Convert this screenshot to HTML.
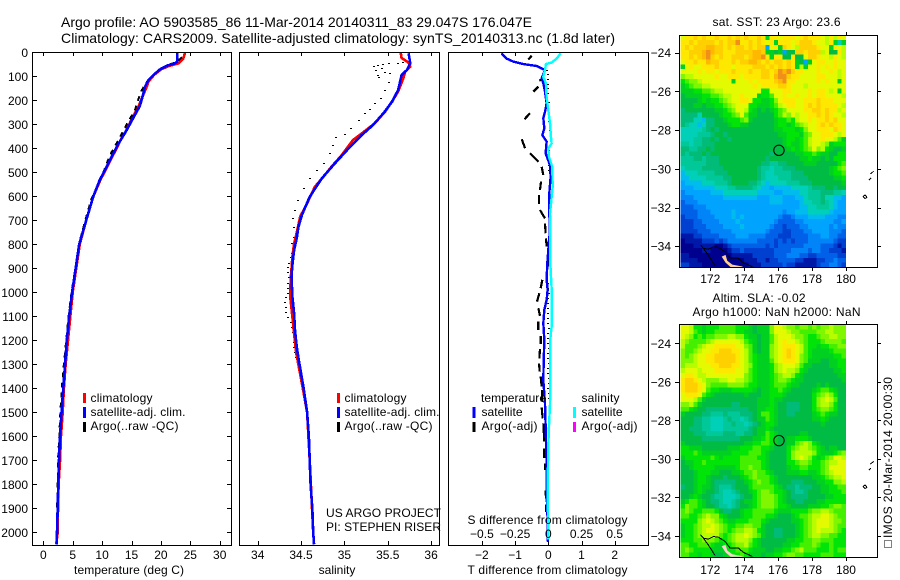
<!DOCTYPE html>
<html lang="en">
<head>
<meta charset="utf-8">
<title>Argo profile 5903585_86</title>
<style>
html,body{margin:0;padding:0;background:#fff;}
svg{display:block;}
text{font-family:"Liberation Sans",sans-serif;font-size:12px;fill:#000;}
.big{font-size:14px;}
</style>
</head>
<body>
<svg id="chart" xmlns="http://www.w3.org/2000/svg" width="900" height="580" viewBox="0 0 900 580">
<rect x="0" y="0" width="900" height="580" fill="#fff"/>
<text class="big" x="61" y="27" textLength="471" lengthAdjust="spacing">Argo profile: AO 5903585_86 11-Mar-2014 20140311_83 29.047S 176.047E</text>
<text class="big" x="61" y="43" textLength="554" lengthAdjust="spacing">Climatology: CARS2009. Satellite-adjusted climatology: synTS_20140313.nc (1.8d later)</text>
<g id="temp-panel"></g>
<g id="sal-panel"></g>
<g id="diff-panel"></g>
<g id="sst-map"></g>
<g id="sla-map"></g>

<g>
<rect x="83" y="393" width="3" height="10" fill="#ff0000"/>
<rect x="83" y="407" width="3" height="11" fill="#0000ff"/>
<rect x="83" y="422" width="3" height="10" fill="#000"/>
<text x="90.5" y="402" textLength="62" lengthAdjust="spacing">climatology</text>
<text x="90.5" y="416" textLength="95" lengthAdjust="spacing">satellite-adj. clim.</text>
<text x="90.5" y="430" textLength="88" lengthAdjust="spacing">Argo(..raw -QC)</text>
</g>
<g>
<rect x="337" y="393" width="3" height="10" fill="#ff0000"/>
<rect x="337" y="407" width="3" height="11" fill="#0000ff"/>
<rect x="337" y="422" width="3" height="10" fill="#000"/>
<text x="344.5" y="402" textLength="62" lengthAdjust="spacing">climatology</text>
<text x="344.5" y="416" textLength="95" lengthAdjust="spacing">satellite-adj. clim.</text>
<text x="344.5" y="430" textLength="88" lengthAdjust="spacing">Argo(..raw -QC)</text>
</g>
<text x="326" y="517" textLength="115" lengthAdjust="spacing">US ARGO PROJECT</text>
<text x="326" y="531" textLength="115" lengthAdjust="spacing">PI: STEPHEN RISER</text>

<g>
<text x="481" y="402" textLength="65" lengthAdjust="spacing">temperature</text>
<text x="581.5" y="402" textLength="38" lengthAdjust="spacing">salinity</text>
<rect x="472.5" y="407" width="3" height="11" fill="#0000ff"/>
<rect x="472.5" y="422" width="3" height="10" fill="#000"/>
<rect x="573" y="407" width="3" height="11" fill="#00ffff"/>
<rect x="573" y="422" width="3" height="10" fill="#ff00ff"/>
<text x="481.5" y="416" textLength="41" lengthAdjust="spacing">satellite</text>
<text x="481.5" y="430" textLength="56" lengthAdjust="spacing">Argo(-adj)</text>
<text x="581.5" y="416" textLength="41" lengthAdjust="spacing">satellite</text>
<text x="581.5" y="430" textLength="56" lengthAdjust="spacing">Argo(-adj)</text>
</g>
<text x="467.5" y="524" textLength="160" lengthAdjust="spacing">S difference from climatology</text>
<text x="467.5" y="574" textLength="160" lengthAdjust="spacing">T difference from climatology</text>
<text x="74" y="574" textLength="110" lengthAdjust="spacing">temperature (deg C)</text>
<text x="337" y="574" text-anchor="middle">salinity</text>

<text x="712.5" y="26" textLength="128" lengthAdjust="spacing">sat. SST: 23  Argo: 23.6</text>
<text x="712.5" y="302" textLength="93" lengthAdjust="spacing">Altim. SLA: -0.02</text>
<text x="692.5" y="316" textLength="168" lengthAdjust="spacing">Argo h1000: NaN h2000: NaN</text>
<rect x="884.5" y="540.5" width="7" height="7" fill="none" stroke="#000" stroke-width="1" stroke-dasharray="1 1" shape-rendering="crispEdges"/>
<text transform="translate(892 538) rotate(-90)" textLength="161" lengthAdjust="spacing">IMOS 20-Mar-2014 20:00:30</text>

<script>
// ---------- profile data ----------
const depthTicks = [0,100,200,300,400,500,600,700,800,900,1000,1100,1200,1300,1400,1500,1600,1700,1800,1900,2000];
const depthTickLabels = ['0','100','200','300','400','500','600','700','800','900','1000','1100','1200','1300','1400','1500','1600','1700','1800','1900','2000'];
const tempTicks = [0,5,10,15,20,25,30];
const tempTickLabels = ['0','5','10','15','20','25','30'];
const salTicks = [34,34.5,35,35.5,36];
const salTickLabels = ['34','34.5','35','35.5','36'];
const tDiffTicks = [-2,-1,0,1,2];
const tDiffTickLabels = ['\u22122','\u22121','0','1','2'];
const sDiffTicks = [-0.5,-0.25,0,0.25,0.5];
const sDiffTickLabels = ['\u22120.5','\u22120.25','0','0.25','0.5'];

const climTempDepth = [2,27,46,56,70,95,122,143,183,225,280,337,358,393,476,532,601,700,800,900,1000,1100,1200,1300,1400,1500,1600,1700,1800,1900,2000,2050];
const climTempValue = [24.1,23.8,23,21.5,20.1,18.8,17.9,17.6,16.9,16.2,15,13.9,13.3,12.6,10.9,9.7,8.5,7.3,6.2,5.6,5.0,4.6,4.2,3.8,3.5,3.3,3.0,2.85,2.6,2.5,2.45,2.2];
const satTempDepth = [3,39,46,56,71,95,115,143,183,225,260,323,393,476,532,601,700,800,900,1000,1100,1200,1300,1400,1500,1600,1700,1800,1900,2000,2050];
const satTempValue = [22.8,22.8,22.4,21,19.85,18.7,17.9,17.3,16.9,16.4,15.6,14.2,12.5,10.8,9.6,8.5,7.3,6.1,5.5,4.9,4.4,4.0,3.7,3.4,3.1,2.85,2.67,2.55,2.45,2.33,2.28];
const argoTempDepth = [20,40,55,75,100,120,160,200,240,300,365,430,470,550,610,700,800,900,1000,1100,1200,1300,1400,1500,1600,1700,1800,1900,2000];
const argoTempValue = [23.6,22.7,21,19.6,18.4,17.7,16.7,16.1,15.6,14.2,12.8,11.3,10.7,9.4,8.2,7.15,6.05,5.45,4.8,4.3,3.9,3.5,3.15,2.9,2.72,2.5,2.45,2.33,2.3];

const climSalDepth = [3,24,43,60,81,108,163,199,247,296,338,365,428,477,518,560,629,685,768,796,852,949,1018,1102,1157,1254,1400,1500,1700,2000,2050];
const climSalValue = [35.65,35.66,35.74,35.76,35.70,35.68,35.62,35.56,35.47,35.35,35.2,35.1,34.97,34.85,34.76,34.66,34.57,34.49,34.44,34.42,34.40,34.38,34.375,34.40,34.415,34.445,34.52,34.57,34.6,34.64,34.65];
const satSalDepth = [4,46,74,95,157,206,254,303,345,400,463,525,602,678,727,775,824,886,935,1018,1088,1157,1227,1274,1400,1500,1600,1700,1800,1900,2000,2050];
const satSalValue = [35.74,35.76,35.72,35.66,35.62,35.55,35.45,35.33,35.2,35.05,34.89,34.74,34.6,34.51,34.47,34.45,34.42,34.40,34.39,34.40,34.42,34.43,34.45,34.47,34.53,34.57,34.59,34.6,34.61,34.63,34.64,34.65];
const argoSalDepth = [11,39,43,46,49,53,56,67,74,81,88,95,104,122,157,192,213,236,254,282,317,340,351,386,421,463,490,525,567,615,657,692,727,768,793,835,854,876,896,917,938,960,981,1001,1021,1042,1063,1083,1104,1122,1146,1167,1188,1208,1229,1250,1271];
const argoSalValue = [35.74,35.68,35.62,35.51,35.45,35.39,35.34,35.43,35.37,35.47,35.53,35.39,35.40,35.51,35.47,35.42,35.35,35.30,35.24,35.17,35.08,35.01,34.90,34.87,34.83,34.76,34.68,34.60,34.53,34.47,34.43,34.41,34.42,34.42,34.40,34.40,34.38,34.36,34.35,34.35,34.36,34.35,34.35,34.35,34.33,34.31,34.33,34.33,34.35,34.38,34.40,34.41,34.42,34.42,34.42,34.43,34.44];

const satTDiffDepth = [4,26,39,49,57,74,109,129,164,213,248,275,317,345,372,421,470,519,588,671,740,823,879,948,990,1032,1073,1129,1198,1296,1366,1463,1560,1713,1880,1950,2040];
const satTDiffValue = [-1.41,-1.26,-1.05,-0.75,-0.35,-0.1,-0.2,-0.15,-0.1,-0.05,-0.1,-0.15,-0.12,-0.18,-0.05,-0.08,0.05,0.07,0.03,0.03,0.05,0,-0.03,-0.05,-0.02,-0.05,-0.12,-0.15,-0.12,-0.14,-0.15,-0.1,-0.08,-0.05,-0.04,-0.02,-0.01];
const satSDiffDepth = [4,26,43,49,74,102,129,185,241,296,352,380,400,435,477,560,671,740,879,983,1143,1198,1351,1463,1560,1643,1810,2030];
const satSDiffValue = [0.093,0.063,0.025,-0.018,-0.025,-0.038,-0.018,-0.013,0,0.013,0.02,0.025,0,0.005,0.03,0.033,0.013,0.015,0.015,0.025,0.025,0.015,0.015,0.013,0.005,0,-0.005,0];
// null breaks the dashed Argo difference line where the reference has a gap
const argoTDiffDepth = [14,30,null,108,118,null,143,164,null,254,279,null,362,400,null,421,456,null,477,511,null,539,574,null,595,632,null,657,692,null,713,754,null,775,809,null,858,893,null,948,983,null,1004,1039,null,1066,1098,null,1122,1157,null,1182,1215,null,1237,1275,null,1296,1330,null,1351,1392,null,1407,1456,null,1480,1525,null,1546,1622,null,1650,1690,null,1713,1740,null,1825,1860,null,1885,1915];
const argoTDiffValue = [-0.5,-0.6,null,-0.15,-0.27,null,-0.3,-0.45,null,-0.55,-0.72,null,-0.8,-0.7,null,-0.55,-0.3,null,-0.2,-0.15,null,-0.22,-0.25,null,-0.28,-0.28,null,-0.25,-0.1,null,-0.1,-0.08,null,-0.07,-0.05,null,0.02,0.02,null,-0.18,-0.23,null,-0.27,-0.34,null,-0.3,-0.25,null,-0.3,-0.3,null,-0.23,-0.23,null,-0.25,-0.27,null,-0.28,-0.26,null,-0.23,-0.2,null,-0.18,-0.2,null,-0.2,-0.17,null,-0.15,-0.12,null,-0.12,-0.12,null,-0.1,-0.1,null,-0.08,-0.07,null,-0.07,-0.07];
const argoSDiffDepth = [74,92,112,132,150,170,205,262,285,305,325,405,425,450,470,490,960,981,1001,1022,1043,1064,1085,1106,1127,1148,1169,1190,1210,1231,1252,1273,1294,1315,1336,1357,1378,1399,1420,1441];
const argoSDiffValue = [-0.012,-0.005,0,0,0,0,0.004,0.005,0.008,0.012,0.012,0.002,0.002,0.004,0.004,0.004,0,0,0.002,0,0,0,0.001,0,0,0.002,0.001,0,0,0.002,0,0,0.002,0,0,0.002,0.002,0,0.004,0.004];

// ---------- map data: one letter per 0.25 deg cell, a = coldest/lowest ... u = warmest/highest ----------
const mapTicksLon = [172,174,176,178,180];
const mapLonLabels = ['172','174','176','178','180'];
const mapTicksLat = [-24,-26,-28,-30,-32,-34];
const mapLatLabels = ['\u221224','\u221226','\u221228','\u221230','\u221232','\u221234'];
const sstRows = [
'qrrsrsrrsr rsrsrsrrsr lrrqrrrqrs rrrqprprq',
'rrsrssssrs rssurrsrsr qrlrrrqrss srqqprlhl',
'rsrsssttss rsrssrsrss fqrlsrqpss ssrqqlrqp',
'rrssstutss rrrsssstts llklfkkssr ssspqkkrp',
'rrsrstusrs rrsssrsttu rlrrkkrkkq ssrqqprqp',
'qrrsrrtssr rrsrssttsr srssrsrlkf lqrrqqrqq',
'lqrqqrrrsr rrqrrrrsss rsrsrsrlpl qqrqrqrqq',
'qqqqrqrrqr rrsrrrsrrs srsutusrrq qqrqqrqpq',
'oppqqqqqrq qrrrqrrrrs srtuusrrqq qqrrqqqpq',
'mnoopqqqqq qqlqqqrqrr rrsturrqqq qqrqrqqlq',
'lmnooppqqq qqqqqqqrqr rrrssrqqqp qqqqqqqqq',
'lllmmnnopp qqqqqqqqqm mqqqrrqqqq rqrrqpqlq',
'kllllmmnno ppqqrqqqlm mnqqrqqrqq rqrrqqqqp',
'kkkklmlmmn opqqrrqmml lmoqrrrqqr rrsrrrqqq',
'kkkllkllmm nopqqqmmll lmnpqrrqqr srsrrrrqp',
'jkkkkkkkll mnoqqpmlkl klmnoqqqqr rssrsrrpq',
'jjjjhkkkkl mmnoqnllkk kkmnpoqpqq rrsrsrqqp',
'jjjhhgjjkk lmmmnolkkk kklmmnmpqq rqrrsrsqq',
'jihhghjjkk klmmllkkkk kklmmlmnop qqrsrsrrq',
'hhhhhijkjk kkkkkkkkkk kkllmmmlmo qqrrrqsrq',
'hhhhiiijkk jkkkkkkkkk kkkllmmmln oqqrrrqpq',
'hhhiijjkjk kjkkkkkkkk kkkklmmlmn pqqrqqpnl',
'iihiijjjkk kkkkkkkkkk kkkklmllmn pqqpolmmm',
'jjiijjkjkk kkkkkkkkkk kkkkklmlmn oqopmlkkl',
'jijjjkjkkk kkkkkkkkkk kjkkkkkllm mnmllkkmm',
'iiijjijjjk kkkkkkkkkk jkkkkkkkll mllklkmmm',
'iiiiiijjjk kkkkkkkkkj jiijjkkkkl llkkkkkmn',
'hiiiijjjjj kkkkkkkkji ihiijjjkkk kkkkklmno',
'ghhhiiiijj jkkkkkkkji hhiiiijjjk kkkkklmmn',
'gghhhhiiii jjkkkkkkji hhhiiijjjj kkkkkkllm',
'fgggghhhii ijkkkkjjih ghhhhiiijj jkkkkkkkl',
'fffggggghh hiijjjjihg gfgggghhhh ijjjkkjkk',
'effffffggg hhhhhhhhgg ggffgggghh iiijjjiih',
'eeefffffff ggggggggff fgggfffggh iiijhhggf',
'deeeffffff ffffffffff fgggffffgh hiijihgff',
'dddeeeffff ffffffffff ffffffffgg hhiiihgff',
'ddddeeefff ffgfffffff ffffeffggg hhhhhgfff',
'cdddeeeeff ffgfgfffff fffeddefff ggggfffee',
'cccddeeeef fffgffffff ffeddddeef ffffffeef',
'cccdddeeee ffffgfffff feddcdddee fffffefee',
'ccccdddeee eeffffffff edddccddde effffeeed',
'bbbccdddde eeefffeeee dddcccdddd eeeffeedd',
'abbbbcccdc deeeeeeedd ddcdcdcddd eeeeeedcc',
'aaabbbbbaa bcdddddddd cdcdddddde eeedddcbc',
'aaaaabbaaa abccdccccc ccddddeeee deeddcccb',
'bbaaaaaaaa aabbbbbccc ccdddeeedd ccdddddcc',
'bbbbaaaaaa aaaaabbbcc bccddddccb bbccddedd',
'ccbbbaaaaa aaaaaabbbc ccccdccbbb bbcddeedc'
];
const slaRows = [
'qqpmmlmmmn nnnmmmlkll loqqpoonoo nonoopooo',
'qqpnmlmmnn nnnmmllkll loqqqpoonn nnooppooo',
'qpomnmnnoo oppoomllkl lnpqqqpoon mmnooppoo',
'ponnnnopqq qqqqpnmlkl lnpqrqqpon mmmnoooon',
'pnnnopqqrr rrrqqonlkl lopqrrrqpn mmlmmnnoo',
'onnopqqrrs ssrrqpnlkl lopqrsrqpn mllllmnnn',
'onopqqrrss sssrqpnmll lopqrsrqon mlllllmmn',
'ooopqqrrss sssrqpnmll lnpqrrrqon lllkkllmm',
'opppqqqrrs ssrrqpomll lmopqqqpnl lkkkkllmm',
'pqqqpqqqrr rrrqqpnmll lmopqppoml kkkkkkllm',
'qrrqppqqqq qqqqqonmll lmnoppomlk kkkkkkkll',
'rssrqpooop pqqpponmll lmnoonmllk kkkkkkkkl',
'rsssrqonnn noooonmmll lmnnnmllkk kklklkkkk',
'rsssrqnmml llmmmmmlkl lmmnmlkkkk klmnnmlkk',
'qrrrqnmlkk kkkkklkkkl lmmmlkkkkk kmnopomkk',
'qqqpnlkkkk kkkkkkkkll lmllkkkkkk kmopqpnkk',
'oopnlkkkkk kkjjkkkkll lmlkkjjjkk kmoppomkk',
'nnmlkkjjjj jjjjjjkkll mmlkkjjjkk kmnoonmkk',
'lkkkkjjiii jiiijjjkln nmlkkjjkkk klmnmllkk',
'kkkjjiihhh ijiihijkll nmlkkkkkkk kllmlkkkk',
'kkkjjiihhh iijiihijkl mmlkkkkkkk kkklkkkkk',
'kkjjjiihhh iiiiiijkll mlkkkkkkkk kkkkkkkkk',
'kkkjjjiiii jjjiijjkll nmlkkkkkll kkkkkkkkk',
'kkkkkjjjjj jjjjkkkllm nmlkkllmmm lkkkkkkkk',
'lkkkkkkkkk kkkkkllmmn nmlkkllnop omlkkkkkk',
'mmlllkkkkk klllmmmnnm mlkkkmnopp onmlkllkk',
'mmmnmlllll llmmmmnnnm lkkkkmoppp pomlllmno',
'lmmmmmmnml mmmmnnnnmm lkkkkmopqp omlmnoqqp',
'kllmmnmmmm mmmmnnnnnm lkkkkmmnoo nmmnoppqq',
'kklmmmmmll lllmnnonnm lkkkklmmnn mmmnoqqqq',
'kkklmmmllk kkllmnnonn mlkkklllmm llmnopqqq',
'kkklmmlkkk jkkklmnonn nmlkkkkkkk kllmnoppq',
'kkklmmlkjj jjjkklmnon nmlkkkjjjk kkllmmoop',
'jkklmllkji iijkkkmnnn nnmlkjjijj jkkllmmnn',
'kkklmlkkji hhijkklmno onmmlkjiij kkkllmmmn',
'kklmlkkjii hhhijkkmno oonmlkjjjj kkkkllmmm',
'lmnnmlkjji hhijkllmno oonmlkkjjk kkllmmmmm',
'monnmlkkji ihijkklmno oonmmlkkkk lllmmnoon',
'nonmmnnnmk jjkklmmnnn nnmlllmmmm noopponnn',
'nnmmnopoom lkkklmmnnn mmlkkklmnn oppqqponn',
'mmmmopqpon mllmmmnnnm lkkkkkllmn opqqqpoon',
'lmmnoppqpo nmmnnoonnl kkkkkkklmn opqqqponn',
'lmmnopqqpo nmnooppoml kkjjkkklmn opqppponm',
'lmmnoppppn mnoppqponl kkjjkkklmn oppoonnmm',
'mmmnnooonm mnopppomlk kkkkkllmmn noonnnmmm',
'nnmmnnnmll mmnoopnmlk kkkkllmmnn nonmmnmmm',
'nonmmmmlll lmmnnnmlll kkllmmnopn nnmmmnmnn',
'nnmmlmmlkk lmmmnmlllk llmmnoonnm mmmnnnmmm'
];
const coastLon = [171.43,171.59,171.88,172.18,172.47,172.87,173.16,173.65,173.95,174.48];
const coastLat = [-33.94,-34.11,-34.16,-34.03,-34.06,-34.28,-34.62,-34.62,-34.85,-35.06];
const coastBranchLon = [171.59,171.88,172.28];
const coastBranchLat = [-34.11,-34.46,-35.01];
const shoreLon = [172.67,172.9,173.0,173.3,173.9,173.9,173.2,172.9];
const shoreLat = [-34.54,-34.45,-34.75,-34.95,-35.05,-35.08,-35.08,-34.85];
const islandALon = [181.35,181.47];
const islandALat = [-30.58,-30.47];
const islandBLon = [181.43,181.63];
const islandBLat = [-30.27,-30.13];
const islandCLon = [181.0,181.12,181.24,181.12,181.0];
const islandCLat = [-31.44,-31.35,-31.47,-31.54,-31.44];
const floatLon = 176.047;
const floatLat = -29.047;

// ---------- scales ----------
const NS = 'http://www.w3.org/2000/svg';
const depthY = d => 52.3 + d * 0.24;
const tempX = v => 43.3 + v * 5.88;
const salX = v => 257.7 + (v - 34) * 86.7;
const tDiffX = v => 548.3 + v * 33.2;
const sDiffX = v => 548.3 + v * 132.8;
const lonX = lon => 710.3 + (lon - 172) * 16.96;
const sstLatY = lat => 52.7 + (-24 - lat) * 19.35;
const slaLatY = lat => 343.3 + (-24 - lat) * 19.27;

function make(parent, tag, attrs) {
  const el = document.createElementNS(NS, tag);
  for (const k in attrs) el.setAttribute(k, attrs[k]);
  parent.appendChild(el);
  return el;
}
function pathD(xs, ys) {
  let d = '', pen = false;
  for (let i = 0; i < xs.length; i++) {
    if (xs[i] === null) { pen = false; continue; }
    d += (pen ? 'L' : 'M') + xs[i].toFixed(2) + ' ' + ys[i].toFixed(2);
    pen = true;
  }
  return d;
}
function curve(parent, depths, values, xf, color, width, dash) {
  const xs = values.map(v => v === null ? null : xf(v));
  const ys = depths.map(d => d === null ? null : depthY(d));
  const attrs = {d: pathD(xs, ys), fill: 'none', stroke: color, 'stroke-width': width, 'shape-rendering': 'crispEdges', 'stroke-linejoin': 'round'};
  if (dash) attrs['stroke-dasharray'] = dash;
  return make(parent, 'path', attrs);
}
function dots(parent, depths, values, xf, name) {
  for (let i = 0; i < depths.length; i++) {
    const el = make(parent, 'rect', {x: Math.round(xf(values[i])) - 1, y: Math.round(depthY(depths[i])), width: 2, height: 1, fill: '#000', 'shape-rendering': 'crispEdges'});
    
    
  }
}
function frame(parent, x0, y0, x1, y1, name) {
  const el = make(parent, 'rect', {x: x0 + 0.5, y: y0 + 0.5, width: x1 - x0, height: y1 - y0, fill: 'none', stroke: '#000', 'stroke-width': 1, 'shape-rendering': 'crispEdges'});
  
  
}
function tick(parent, x1, y1, x2, y2, name) {
  const el = make(parent, 'line', {x1: x1, y1: y1, x2: x2, y2: y2, stroke: '#000', 'stroke-width': 1, 'shape-rendering': 'crispEdges'});
  
  
}
function label(parent, x, y, anchor, str, name) {
  const el = make(parent, 'text', {x: x, y: y, 'text-anchor': anchor});
  el.textContent = str;
  
  
}
function xAxis(parent, x0, x1, ticks, labels, xf, name) {
  ticks.forEach((t, i) => {
    const x = Math.round(xf(t)) + 0.5;
    tick(parent, x, 52, x, 56, name + '-top-tick');
    tick(parent, x, 541, x, 545, name + '-bottom-tick');
    label(parent, xf(t), 559, 'middle', labels[i], name + '-tick-label');
  });
}

// ---------- temperature panel ----------
const tempPanel = document.getElementById('temp-panel');
const redT = curve(tempPanel, climTempDepth, climTempValue, tempX, '#ff0000', 2.6);


const blackT = curve(tempPanel, argoTempDepth, argoTempValue, tempX, '#000', 2, '5 5');


const blueT = curve(tempPanel, satTempDepth, satTempValue, tempX, '#0000ff', 2.6);


frame(tempPanel, 32, 52, 231, 545, 'temperature-axes-frame');
depthTicks.forEach((d, i) => {
  const y = Math.round(depthY(d)) + 0.5;
  tick(tempPanel, 32, y, 37, y, 'depth-tick-left');
  tick(tempPanel, 227, y, 231, y, 'depth-tick-right');
  label(tempPanel, 28, depthY(d) + 4.5, 'end', depthTickLabels[i], 'depth-tick-label');
});
xAxis(tempPanel, 32, 231, tempTicks, tempTickLabels, tempX, 'temperature-axis');

// ---------- salinity panel ----------
const salPanel = document.getElementById('sal-panel');
dots(salPanel, argoSalDepth, argoSalValue, salX, 'salinity-argo-point');
const redS = curve(salPanel, climSalDepth, climSalValue, salX, '#ff0000', 2.6);


const blueS = curve(salPanel, satSalDepth, satSalValue, salX, '#0000ff', 2.6);


frame(salPanel, 239, 52, 439, 545, 'salinity-axes-frame');
xAxis(salPanel, 239, 439, salTicks, salTickLabels, salX, 'salinity-axis');

// ---------- difference panel ----------
const diffPanel = document.getElementById('diff-panel');
const blackDT = curve(diffPanel, argoTDiffDepth, argoTDiffValue, tDiffX, '#000', 2.2);


dots(diffPanel, argoSDiffDepth, argoSDiffValue, sDiffX, 'salinity-difference-argo-point');
const blueDT = curve(diffPanel, satTDiffDepth, satTDiffValue, tDiffX, '#0000ff', 2.4);


const cyanDS = curve(diffPanel, satSDiffDepth, satSDiffValue, sDiffX, '#00ffff', 2.4);


frame(diffPanel, 448, 52, 648, 545, 'difference-axes-frame');
xAxis(diffPanel, 448, 648, tDiffTicks, tDiffTickLabels, tDiffX, 't-difference-axis');
sDiffTicks.forEach((t, i) => {
  label(diffPanel, sDiffX(t), 538, 'middle', sDiffTickLabels[i], 's-difference-tick-label');
});

// ---------- maps ----------
const levelLetters = 'abcdefghijklmnopqrstu';
const levelColors = ['#00008f','#0018a8','#0040d0','#0060e8','#0084f8','#00a4ff','#00bcee','#00d0b8','#00c898','#00bc78','#00bc44','#00d020','#00e408','#44f000','#80f600','#b8fc00','#e4fa00','#ffe800','#ffd000','#ffb800','#f09018'];
const cellLon = 0.25;

function drawMap(parent, rows, latY, topLat, cellLat, y0, y1, labelY, shoreColor, name) {
  rows.forEach((rowText, r) => {
    const row = rowText.replace(/ /g, '');
    for (let c = 0; c < 39; c++) {
      const level = levelLetters.indexOf(row[Math.min(c, row.length - 1)]);
      const xa = lonX(170.25 + c * cellLon), xb = lonX(170.25 + (c + 1) * cellLon);
      const ya = latY(topLat - r * cellLat), yb = latY(topLat - (r + 1) * cellLat);
      const cell = make(parent, 'rect', {x: xa.toFixed(2), y: ya.toFixed(2), width: (xb - xa).toFixed(2), height: (yb - ya).toFixed(2), fill: levelColors[level], 'shape-rendering': 'crispEdges'});
      
      
    }
  });
  const shore = make(parent, 'path', {d: pathD(shoreLon.map(lonX), shoreLat.map(latY)) + 'Z', fill: shoreColor, stroke: 'none'});
  
  
  const outlines = [[coastLon, coastLat], [coastBranchLon, coastBranchLat], [islandALon, islandALat], [islandBLon, islandBLat], [islandCLon, islandCLat]];
  outlines.forEach(o => {
    const el = make(parent, 'path', {d: pathD(o[0].map(lonX), o[1].map(latY)), fill: 'none', stroke: '#000', 'stroke-width': 1, 'shape-rendering': 'crispEdges'});
    
    
  });
  const marker = make(parent, 'circle', {cx: lonX(floatLon), cy: latY(floatLat), r: 5.2, fill: 'none', stroke: '#000', 'stroke-width': 1});
  
  
  frame(parent, 679, y0, 877, y1, name + '-frame');
  mapTicksLon.forEach((lon, i) => {
    const x = Math.round(lonX(lon)) + 0.5;
    tick(parent, x, y0 - 3, x, y0, name + '-lon-tick-top');
    tick(parent, x, y1 + 1, x, y1 + 4, name + '-lon-tick-bottom');
    label(parent, lonX(lon), labelY, 'middle', mapLonLabels[i], name + '-lon-label');
  });
  mapTicksLat.forEach((lat, i) => {
    const y = Math.round(latY(lat)) + 0.5;
    tick(parent, 675, y, 679, y, name + '-lat-tick-left');
    tick(parent, 878, y, 881, y, name + '-lat-tick-right');
    label(parent, 671, latY(lat) + 4.5, 'end', mapLatLabels[i], name + '-lat-label');
  });
}
drawMap(document.getElementById('sst-map'), sstRows, sstLatY, -23.1, 0.25, 35, 267, 283, '#ffd090', 'sst-map');
drawMap(document.getElementById('sla-map'), slaRows, slaLatY, -23.02, 0.2517, 324, 557, 574, '#ffd0d0', 'sla-map');
</script>
</svg>
</body>
</html>
